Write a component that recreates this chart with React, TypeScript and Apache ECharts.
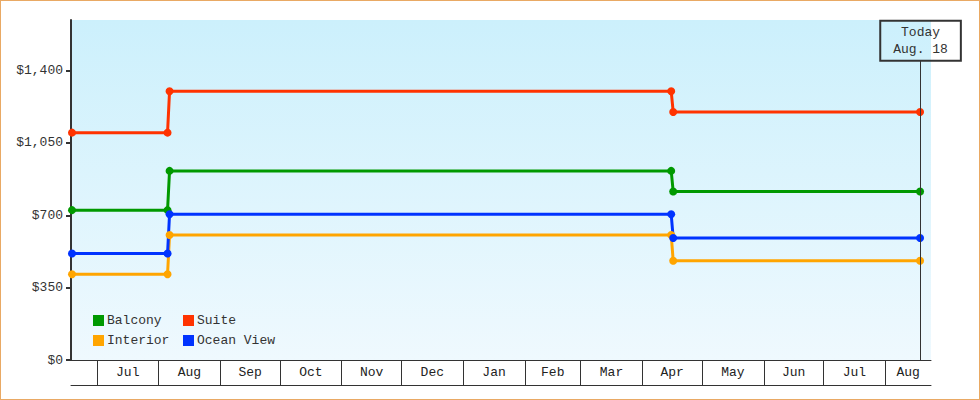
import React, { useEffect, useRef } from "react";
import * as echarts from "echarts";

// price history, one point per date
const DATES = ["2017-06-18", "2017-08-05", "2017-08-06", "2018-04-15", "2018-04-16", "2018-08-18"];
const BALCONY = [725, 725, 915, 915, 815, 815];
const SUITE = [1100, 1100, 1300, 1300, 1200, 1200];
const INTERIOR = [415, 415, 605, 605, 480, 480];
const OCEAN_VIEW = [515, 515, 705, 705, 590, 590];

const X_START = "2017-06-18";
const X_END = "2018-08-24";
const TODAY = "2018-08-18";
const TODAY_LABEL = "Today\nAug. 18";

// month boxes on the x axis
const MONTH_STARTS = [
  "2017-07-01", "2017-08-01", "2017-09-01", "2017-10-01", "2017-11-01", "2017-12-01",
  "2018-01-01", "2018-02-01", "2018-03-01", "2018-04-01", "2018-05-01", "2018-06-01",
  "2018-07-01", "2018-08-01",
];
const MONTH_NAMES = ["Jan", "Feb", "Mar", "Apr", "May", "Jun", "Jul", "Aug", "Sep", "Oct", "Nov", "Dec"];

const Y_TICKS = [0, 350, 700, 1050, 1400];
const Y_MAX = 1645;
const TODAY_BOX_BASE = 1447.5;

const FONT = "Liberation Mono";

const ts = (s: string, t = "00:00") => new Date(s + "T" + t + ":00").getTime();

const App: React.FC = () => {
  const chartRef = useRef<HTMLDivElement>(null);

  useEffect(() => {
    const chart = echarts.init(chartRef.current!, null, { renderer: "svg" });

    // prices are recorded at midday
    const xs = DATES.map((d) => ts(d, "12:00"));
    const pts = (vals: number[]) => vals.map((v, i) => [xs[i], v]);

    const ticks = MONTH_STARTS.map((d) => ts(d));
    const bounds = [...ticks, ts(X_END)];
    const labelAt = ticks.map((t, i) => (t + bounds[i + 1]) / 2);

    const mk = (name: string, color: string, vals: number[]) => ({
      name,
      type: "line",
      data: pts(vals),
      symbol: "circle",
      symbolSize: 8,
      showAllSymbol: true,
      itemStyle: { color },
      lineStyle: { color, width: 3 },
    });

    const oceanView: any = mk("Ocean View", "#0033ff", OCEAN_VIEW);
    oceanView.markLine = {
      silent: true,
      symbol: ["none", "none"],
      lineStyle: { color: "#333", width: 1, type: "solid" },
      label: {
        show: true,
        position: "start",
        distance: 0,
        formatter: TODAY_LABEL,
        fontFamily: FONT,
        fontSize: 13,
        lineHeight: 17,
        color: "#333",
        borderColor: "#333",
        borderWidth: 1,
        padding: [3, 13],
        backgroundColor: "transparent",
      },
      data: [[{ coord: [ts(TODAY, "18:00"), TODAY_BOX_BASE] }, { coord: [ts(TODAY, "18:00"), 0] }]],
    };

    const legendBase = {
      orient: "vertical",
      top: 313,
      padding: 0,
      itemGap: 7,
      itemWidth: 11,
      itemHeight: 11,
      icon: "rect",
      textStyle: { fontFamily: FONT, fontSize: 13, color: "#333", padding: [0, 0, 0, -2] },
    };

    chart.setOption({
      animation: false,
      textStyle: { fontFamily: FONT },
      grid: {
        left: 70,
        right: 48,
        top: 19,
        bottom: 39,
        show: true,
        borderWidth: 0,
        backgroundColor: new echarts.graphic.LinearGradient(0, 0, 0, 1, [
          { offset: 0, color: "#ccf0fc" },
          { offset: 1, color: "#eff9fe" },
        ]),
      },
      legend: [
        { ...legendBase, left: 92, data: ["Balcony", "Interior"] },
        { ...legendBase, left: 182, data: ["Suite", "Ocean View"] },
      ],
      xAxis: [
        {
          type: "value",
          min: ts(X_START),
          max: ts(X_END),
          axisLine: { show: true, lineStyle: { color: "#333", width: 1 } },
          axisTick: {
            show: true,
            length: 25,
            customValues: ticks,
            lineStyle: { color: "#333", width: 1 },
          },
          axisLabel: {
            customValues: labelAt,
            margin: 6,
            fontFamily: FONT,
            fontSize: 13,
            color: "#222",
            formatter: (v: number) => MONTH_NAMES[new Date(v).getMonth()],
          },
          splitLine: { show: false },
        },
        {
          type: "value",
          position: "bottom",
          offset: 25,
          min: ts(X_START),
          max: ts(X_END),
          axisLine: { show: true, lineStyle: { color: "#333", width: 1 } },
          axisTick: { show: false },
          axisLabel: { show: false },
          splitLine: { show: false },
        },
      ],
      yAxis: {
        type: "value",
        min: 0,
        max: Y_MAX,
        axisLine: { show: true, lineStyle: { color: "#333", width: 2 } },
        axisTick: {
          show: true,
          length: 5,
          customValues: Y_TICKS,
          lineStyle: { color: "#333", width: 2 },
        },
        axisLabel: {
          customValues: Y_TICKS,
          margin: 8,
          fontFamily: FONT,
          fontSize: 13,
          color: "#333",
          formatter: (v: number) => "$" + v.toLocaleString("en-US"),
        },
        splitLine: { show: false },
      },
      series: [
        mk("Balcony", "#009900", BALCONY),
        mk("Suite", "#ff3300", SUITE),
        mk("Interior", "#ffa500", INTERIOR),
        oceanView,
      ],
    });

    return () => {
      chart.dispose();
    };
  }, []);

  return (
    <div
      style={{
        position: "fixed",
        left: 0,
        top: 0,
        width: 980,
        height: 400,
        boxSizing: "border-box",
        border: "1px solid #e9a964",
        background: "#fff",
      }}
    >
      <div ref={chartRef} style={{ width: 978, height: 398 }} />
    </div>
  );
};

export default App;
